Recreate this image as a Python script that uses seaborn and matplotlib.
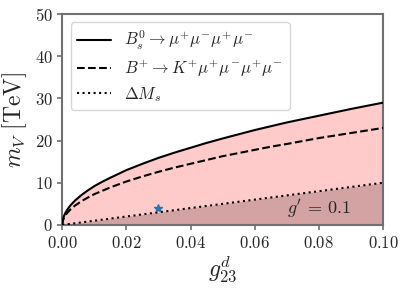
import numpy as np
import pandas as pd
import matplotlib
matplotlib.use("Agg")
import matplotlib.pyplot as plt
import seaborn as sns
from matplotlib.ticker import FuncFormatter

# Data
g23 = [0.0, 0.0001, 0.0003, 0.0006, 0.001, 0.0015, 0.0025, 0.004, 0.006, 0.008,
       0.01, 0.0125, 0.015, 0.0175, 0.02, 0.025, 0.03, 0.035, 0.04, 0.045, 0.05,
       0.055, 0.06, 0.065, 0.07, 0.075, 0.08, 0.085, 0.09, 0.095, 0.1]
mv_bs = [0.0, 0.92, 1.6, 2.25, 2.9, 3.55, 4.6, 5.8, 7.1, 8.2,
         9.2, 10.25, 11.2, 12.1, 13.0, 14.5, 15.9, 17.15, 18.3, 19.45, 20.5,
         21.5, 22.5, 23.4, 24.3, 25.1, 25.9, 26.7, 27.5, 28.25, 29.0]
mv_bk = [0.0, 0.73, 1.26, 1.78, 2.3, 2.82, 3.64, 4.6, 5.64, 6.5,
         7.3, 8.1, 8.9, 9.6, 10.3, 11.5, 12.6, 13.6, 14.5, 15.4, 16.3,
         17.05, 17.8, 18.55, 19.2, 19.9, 20.6, 21.2, 21.8, 22.4, 23.0]
g_dm = [0.0, 0.1]
mv_dm = [0.0, 10.0]
star_x = [0.03]
star_y = [4.0]

sns.set_style("ticks")
plt.rcParams["mathtext.fontset"] = "cm"
plt.rcParams["font.family"] = ["DejaVu Serif"]

df = pd.DataFrame({"g": g23, "bs": mv_bs, "bk": mv_bk})
dfd = pd.DataFrame({"g": g_dm, "dm": mv_dm})

fig, ax = plt.subplots(figsize=(4.07, 2.88), dpi=100)
fig.subplots_adjust(left=0.153, right=0.941, bottom=0.219, top=0.951)

ax.fill_between(df["g"], 0, df["bs"], color="#ffcaca", lw=0, zorder=1)
ax.fill_between(dfd["g"], 0, dfd["dm"], color="#d3a2a2", lw=0, zorder=1.5)

sns.lineplot(data=df, x="g", y="bs", ax=ax, color="black", lw=1.5,
             label=r"$B_s^0\rightarrow\mu^{+}\mu^{-}\mu^{+}\mu^{-}$", zorder=3)
sns.lineplot(data=df, x="g", y="bk", ax=ax, color="black", lw=1.5, linestyle="--",
             label=r"$B^{+}\rightarrow K^{+}\mu^{+}\mu^{-}\mu^{+}\mu^{-}$", zorder=3)
sns.lineplot(data=dfd, x="g", y="dm", ax=ax, color="black", lw=1.5, linestyle=":",
             label=r"$\Delta M_s$", zorder=3)
ax.plot(star_x, star_y, marker="*", color="#1f77b4", ms=6, ls="none", zorder=4)

ax.text(0.07, 4.0, r"$g'\,=\,0.1$", fontsize=13, va="center", ha="left")

ax.set_xlim(0, 0.1)
ax.set_ylim(0, 50)
ax.set_xticks([0, 0.02, 0.04, 0.06, 0.08, 0.1])
ax.set_yticks([0, 10, 20, 30, 40, 50])
ax.xaxis.set_major_formatter(FuncFormatter(lambda v, p: f"${v:.2f}$"))
ax.yaxis.set_major_formatter(FuncFormatter(lambda v, p: f"${v:.0f}$"))
ax.tick_params(labelsize=12, color="#707070", width=1.2, length=3.5)
for s in ax.spines.values():
    s.set_color("#707070")
    s.set_linewidth(1.5)

ax.set_xlabel(r"$g_{23}^{d}$", fontsize=17, labelpad=2)
ax.set_ylabel(r"$m_V\ [\mathrm{TeV}]$", fontsize=17, labelpad=4)

leg = ax.legend(loc="upper left", fontsize=12, frameon=True, fancybox=True,
                borderaxespad=0.5, handlelength=2.0, labelspacing=0.35)
leg.get_frame().set_edgecolor("#cccccc")

fig.savefig("out.png", dpi=100)
